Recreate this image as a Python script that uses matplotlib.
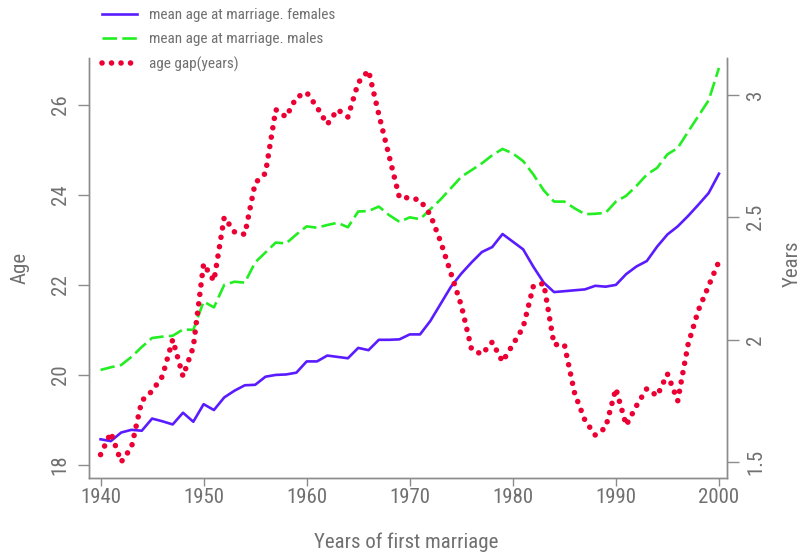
import numpy as np
import matplotlib
matplotlib.use("Agg")
import matplotlib.pyplot as plt
from matplotlib import font_manager

# data
years = list(range(1940, 2001))

females = [18.57, 18.53, 18.72, 18.78, 18.76, 19.03, 18.97, 18.90, 19.16, 18.96,
           19.35, 19.22, 19.50, 19.65, 19.77, 19.78, 19.96, 20.00, 20.01, 20.05,
           20.30, 20.30, 20.43, 20.40, 20.37, 20.60, 20.55, 20.78, 20.78, 20.79,
           20.90, 20.90, 21.20, 21.58, 21.96, 22.25, 22.50, 22.73, 22.84, 23.13,
           22.96, 22.79, 22.40, 22.05, 21.84, 21.86, 21.88, 21.90, 21.98, 21.96,
           22.00, 22.24, 22.41, 22.53, 22.85, 23.12, 23.30, 23.53, 23.78, 24.04,
           24.47]

males = [20.11, 20.17, 20.22, 20.40, 20.62, 20.82, 20.85, 20.87, 21.01, 21.00,
         21.63, 21.50, 22.00, 22.07, 22.05, 22.50, 22.72, 22.94, 22.92, 23.12,
         23.30, 23.27, 23.33, 23.38, 23.28, 23.63, 23.64, 23.74, 23.55, 23.40,
         23.50, 23.46, 23.68, 23.90, 24.15, 24.40, 24.55, 24.70, 24.88, 25.02,
         24.92, 24.75, 24.45, 24.10, 23.85, 23.85, 23.70, 23.57, 23.58, 23.60,
         23.85, 23.98, 24.20, 24.45, 24.60, 24.90, 25.04, 25.40, 25.75, 26.10,
         26.82]

age_gap = [1.53, 1.62, 1.50, 1.56, 1.75, 1.79, 1.85, 2.00, 1.85, 1.97,
           2.31, 2.24, 2.50, 2.44, 2.43, 2.64, 2.68, 2.94, 2.91, 2.99,
           3.01, 2.95, 2.88, 2.94, 2.91, 3.05, 3.10, 2.92, 2.75, 2.58,
           2.58, 2.57, 2.51, 2.40, 2.27, 2.14, 1.96, 1.94, 1.99, 1.91,
           1.98, 2.05, 2.22, 2.23, 1.98, 1.98, 1.78, 1.67, 1.61, 1.64,
           1.80, 1.65, 1.73, 1.80, 1.77, 1.86, 1.75, 1.98, 2.12, 2.22,
           2.32]

x_ticks = list(range(1940, 2001, 10))
age_ticks = [18, 20, 22, 24, 26]
gap_ticks = [1.5, 2, 2.5, 3]

# pick a condensed font if there is one
names = {f.name for f in font_manager.fontManager.ttflist}
narrow = [n for n in ("Liberation Sans Narrow", "Arial Narrow", "Nimbus Sans Narrow",
                      "Roboto Condensed", "Open Sans Condensed") if n in names]
if narrow:
    plt.rcParams["font.family"] = [narrow[0], "DejaVu Sans"]
    tick_fs, label_fs, leg_fs = 15, 15, 11
else:
    plt.rcParams["font.family"] = ["Liberation Sans", "DejaVu Sans"]
    tick_fs, label_fs, leg_fs = 13, 13, 10

grey = "#707070"
axis_grey = "#8c8c8c"
c_fem = "#5a1cff"
c_male = "#22ee22"
c_gap = "#ec0034"

fig = plt.figure(figsize=(8.04, 5.55), dpi=100)
ax = fig.add_axes([89 / 804, 77 / 555, 638 / 804, 420 / 555])
ax2 = ax.twinx()

l1, = ax.plot(years, females, color=c_fem, lw=1.9, solid_joinstyle="round",
              label="mean age at marriage. females")
l2, = ax.plot(years, males, color=c_male, lw=1.9, dashes=(5.5, 2),
              label="mean age at marriage. males")
l3, = ax2.plot(years, age_gap, color=c_gap, lw=4.0, dashes=(0.01, 1.7),
               dash_capstyle="round", label="age gap(years)")

ax.set_xlim(1938.88, 2000.78)
ax.set_ylim(17.71, 27.04)
ax2.set_ylim(1.4346, 3.151)

ax.set_xticks(x_ticks)
ax.set_yticks(age_ticks)
ax2.set_yticks(gap_ticks)
ax2.set_yticklabels(["1.5", "2", "2.5", "3"])

for a in (ax, ax2):
    a.spines["top"].set_visible(False)
    for s in ("left", "right", "bottom"):
        a.spines[s].set_color(axis_grey)
        a.spines[s].set_linewidth(1.0)

ax.tick_params(axis="x", length=6, width=1, color=axis_grey, labelcolor=grey,
               labelsize=tick_fs, pad=1.5)
ax.tick_params(axis="y", length=8, width=1, color=axis_grey, labelcolor=grey,
               labelsize=tick_fs, pad=6, labelrotation=90)
ax2.tick_params(axis="y", length=8.5, width=1, color=axis_grey, labelcolor=grey,
                labelsize=tick_fs, pad=5.5, labelrotation=90)
for t in ax.get_yticklabels() + ax2.get_yticklabels():
    t.set_va("center")

ax.set_xlabel("Years of first marriage", color=grey, fontsize=label_fs)
ax.xaxis.set_label_coords(0.497, -0.152)
ax.xaxis.label.set_va("center")
ax.set_ylabel("Age", color=grey, fontsize=label_fs)
ax.yaxis.set_label_coords(-0.108, 0.5)
ax.yaxis.label.set_va("center")
ax2.set_ylabel("Years", color=grey, fontsize=label_fs, rotation=90)
ax2.yaxis.set_label_coords(1.1025, 0.51)
ax2.yaxis.label.set_va("center")

leg = fig.legend(handles=[l1, l2, l3], loc="upper left",
                 bbox_to_anchor=(102 / 804, 1 - 8 / 555), frameon=False,
                 fontsize=leg_fs, handlelength=2.3, handletextpad=0.75,
                 labelspacing=0.68, borderpad=0, borderaxespad=0)
for t in leg.get_texts():
    t.set_color(grey)

fig.savefig("out.png", dpi=100)
